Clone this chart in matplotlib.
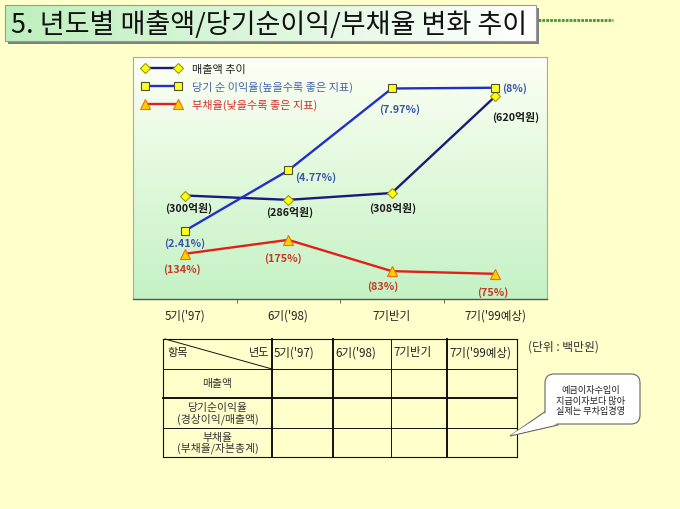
import matplotlib
matplotlib.use('Agg')
import matplotlib.pyplot as plt
import numpy as np
from matplotlib.colors import LinearSegmentedColormap
from matplotlib.patches import Rectangle, FancyBboxPatch, Polygon

plt.rcParams['font.family'] = ['Noto Sans CJK KR', 'DejaVu Sans']

categories = ["5기('97)", "6기('98)", "7기반기", "7기('99예상)"]
sales = [300, 286, 308, 620]            # 억원
profit_rate = [2.41, 4.77, 7.97, 8.0]   # %
debt_ratio = [134, 175, 83, 75]         # %
sales_labels = ['(300억원)', '(286억원)', '(308억원)', '(620억원)']
profit_labels = ['(2.41%)', '(4.77%)', '(7.97%)', '(8%)']
debt_labels = ['(134%)', '(175%)', '(83%)', '(75%)']
legend_labels = ['매출액 추이', '당기 순 이익율(높을수록 좋은 지표)', '부채율(낮을수록 좋은 지표)']
row_labels = ['매출액', '당기순이익율\n(경상이익/매출액)', '부채율\n(부채율/자본총계)']
note_text = '예금이자수입이\n지급이자보다 많아\n실제는 무차입경영'
title = '5. 년도별 매출액/당기순이익/부채율 변화 추이'

W, H = 680, 510
BG = '#FFFFCC'


def fx(px):
    return px / W


def fy(py):
    return 1 - py / H


fig = plt.figure(figsize=(6.8, 5.1), dpi=100, facecolor=BG)

# slide decorations in pixel coordinates
deco = fig.add_axes([0, 0, 1, 1])
deco.axis('off')
deco.add_patch(Rectangle((8, 9), 531, 36, facecolor='#808080', edgecolor='none', zorder=1))
tcmap = LinearSegmentedColormap.from_list('t', ['#bdefbd', '#ffffff'])
deco.imshow(np.linspace(0, 1, 256).reshape(1, -1), extent=[5, 536, 42, 6], cmap=tcmap,
            aspect='auto', zorder=2)
deco.add_patch(Rectangle((5, 6), 531, 36, facecolor='none', edgecolor='#999999', lw=0.8, zorder=3))
deco.text(11, 25, title, fontsize=19.5, va='center', ha='left', color='#111111', zorder=4)
deco.plot([538, 613], [21, 21], color='#3c9a2c', lw=2, ls=(0, (1, 0.4)), zorder=4)

# table
cols = [163, 272, 333, 391, 447, 517]
rows = [340, 370, 399, 429, 458]
col_lw = [0.8, 1.4, 1.4, 0.7, 1.4, 0.8]
row_lw = [0.8, 0.7, 1.4, 0.7, 0.8]
for cx, lw in zip(cols, col_lw):
    deco.plot([cx, cx], [rows[0], rows[-1]], color='#111111', lw=lw, zorder=3)
for ry, lw in zip(rows, row_lw):
    deco.plot([cols[0], cols[-1]], [ry, ry], color='#111111', lw=lw, zorder=3)
deco.plot([cols[0] + 2, cols[1]], [rows[0], rows[1]], color='#111111', lw=0.7, zorder=3)
deco.text(167, 353, '항목', fontsize=8, ha='left', va='center', color='#222222')
deco.text(269, 353, '년도', fontsize=8, ha='right', va='center', color='#222222')
for i, c in enumerate(categories):
    deco.text(cols[i + 1] + 2, 353, c, fontsize=8.3, ha='left', va='center', color='#222222')
for i, r in enumerate(row_labels):
    deco.text((cols[0] + cols[1]) / 2, (rows[i + 1] + rows[i + 2]) / 2, r, fontsize=7.8,
              ha='center', va='center', color='#333333', linespacing=1.0)
deco.text(528, 347, '(단위 : 백만원)', fontsize=8.5, ha='left', va='center', color='#333333')

# callout bubble
deco.add_patch(Polygon([[510, 437], [546, 412], [558, 426]], closed=True,
                       facecolor='white', edgecolor='#666666', lw=0.8, zorder=4))
deco.add_patch(FancyBboxPatch((545, 375), 95, 50, boxstyle='round,pad=0,rounding_size=9',
                              facecolor='white', edgecolor='#666666', lw=0.8, zorder=5))
deco.add_patch(Polygon([[511, 436], [547, 413], [557, 425]], closed=True,
                       facecolor='white', edgecolor='none', zorder=6))
deco.text(591, 401, note_text, fontsize=6.6, ha='center', va='center', color='#222222',
          linespacing=1.25, zorder=7)
deco.set_xlim(0, W)
deco.set_ylim(H, 0)

# chart
ax = fig.add_axes([fx(133), fy(300), (547 - 133) / W, (300 - 58) / H])
x = np.arange(len(categories))
ax.set_xlim(-0.5, 3.5)
ax.set_ylim(-34, 747)
gcmap = LinearSegmentedColormap.from_list('g', ['#fdfff4', '#c4f2c4'])
ax.imshow(np.linspace(0, 1, 256).reshape(-1, 1), extent=[-0.5, 3.5, -34, 747], cmap=gcmap,
          aspect='auto', zorder=0)
ax_p = ax.twinx()
ax_d = ax.twinx()
ax_p.set_ylim(-0.25, 9.2)
ax_d.set_ylim(1, 713)
for a in (ax, ax_p, ax_d):
    a.set_yticks([])
    a.set_xlim(-0.5, 3.5)
for a in (ax_p, ax_d):
    for s in a.spines.values():
        s.set_visible(False)
for s in ('left', 'top', 'right'):
    ax.spines[s].set_color('#a8a8a8')
    ax.spines[s].set_linewidth(0.8)
ax.spines['bottom'].set_color('#555555')
ax.spines['bottom'].set_linewidth(1.0)

# category labels share one baseline below the axis
ax.set_xticks(x)
ax.set_xticklabels([])
ax.tick_params(axis='x', which='major', length=0)
ax.set_xticks([0.5, 1.5, 2.5], minor=True)
ax.tick_params(axis='x', which='minor', length=3, color='#555555', direction='out')
for i, c in enumerate(categories):
    ax.text(x[i], -20 / 242, c, transform=ax.get_xaxis_transform(), fontsize=8.3,
            color='#222222', ha='center', va='baseline')

l_s, = ax.plot(x, sales, color='#1a1a78', lw=1.7, marker='D', ms=5.5, mfc='#ffff10',
               mec='#9a9a00', mew=0.8, zorder=3)
l_p, = ax_p.plot(x, profit_rate, color='#1f2fc8', lw=1.7, marker='s', ms=6.2, mfc='#ffff20',
                 mec='#505030', mew=0.8, zorder=3)
l_d, = ax_d.plot(x, debt_ratio, color='#e0201a', lw=1.7, marker='^', ms=7, mfc='#ffd000',
                 mec='#f07000', mew=0.8, zorder=3)

k = 0.72  # px -> pt
s_off = [(4, 12), (1, 12), (1, 14), (20, 20)]
p_off = [(0, 12), (27, 6), (8, 20), (7, 0)]
d_off = [(-3, 15), (-5, 18), (-9, 14), (-2, 18)]
for i in range(len(categories)):
    ax.annotate(sales_labels[i], (x[i], sales[i]), xytext=(s_off[i][0] * k, -s_off[i][1] * k),
                textcoords='offset points', ha='center', va='center', fontsize=7.8,
                fontweight='bold', color='#1a1a1a')
    ax_p.annotate(profit_labels[i], (x[i], profit_rate[i]),
                  xytext=(p_off[i][0] * k, -p_off[i][1] * k), textcoords='offset points',
                  ha='left' if i == 3 else 'center', va='center', fontsize=7.8,
                  fontweight='bold', color='#3a56a8')
    ax_d.annotate(debt_labels[i], (x[i], debt_ratio[i]), xytext=(d_off[i][0] * k, -d_off[i][1] * k),
                  textcoords='offset points', ha='center', va='center', fontsize=7.8,
                  fontweight='bold', color='#c43a2a')

ax_d.legend([l_s, l_p, l_d], legend_labels, loc='upper left', bbox_to_anchor=(0.021, 0.97),
            frameon=False, numpoints=2, handlelength=3.6, handletextpad=0.9, fontsize=8,
            labelspacing=0.6, borderpad=0, borderaxespad=0,
            labelcolor=['#222222', '#4664a8', '#d03030'])

plt.savefig('out.png', dpi=100, facecolor=BG)
